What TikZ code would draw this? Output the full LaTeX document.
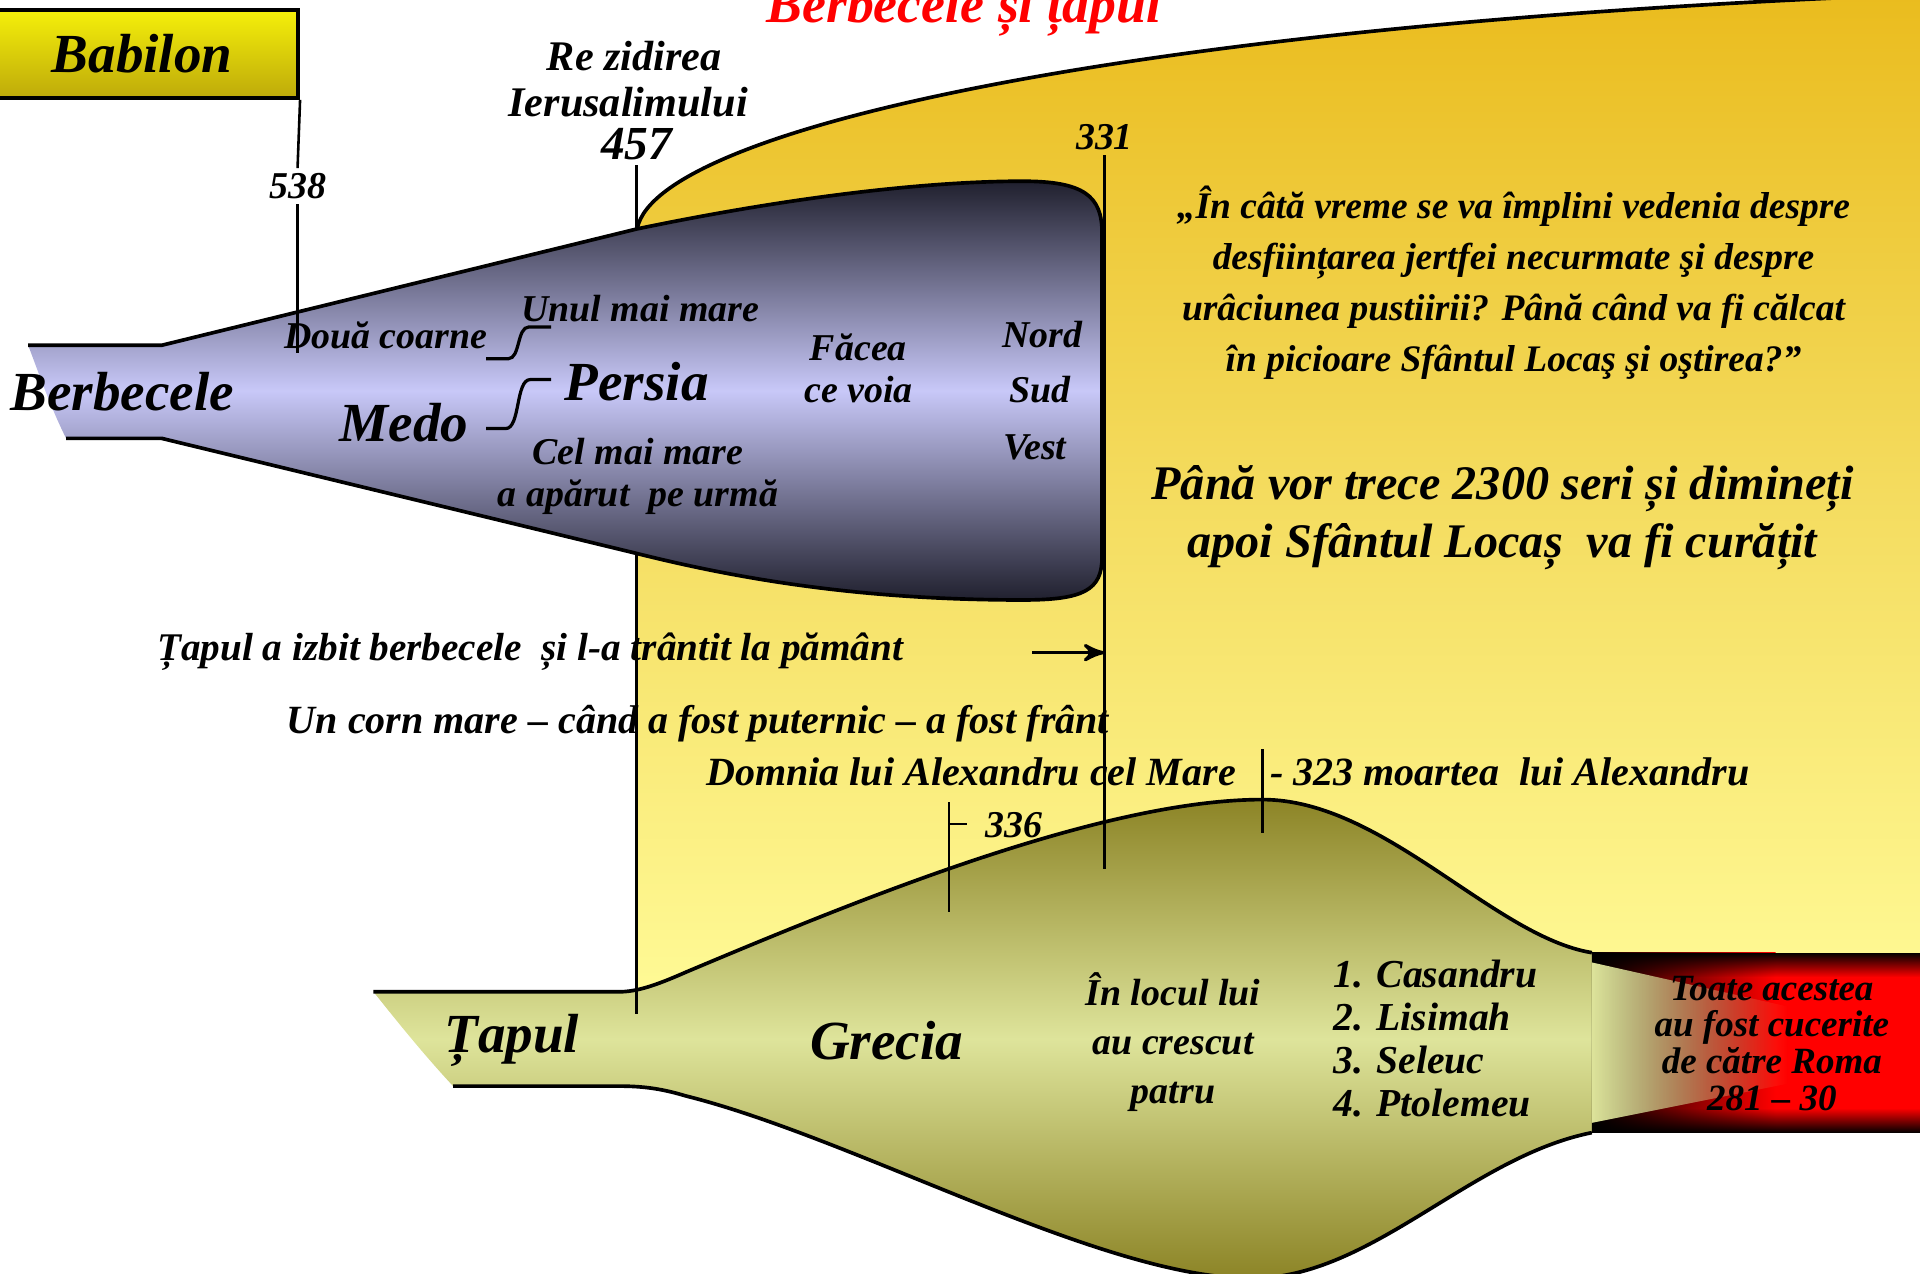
\documentclass[tikz,border=0pt]{standalone}
\usepackage{fontspec}
\setmainfont{Liberation Serif}
\usetikzlibrary{arrows,fadings}
\definecolor{aurinchis}{RGB}{234,188,30}
\definecolor{aurmediu}{RGB}{244,220,95}
\definecolor{galbendeschis}{RGB}{255,250,150}
\definecolor{lavanda}{RGB}{200,200,248}
\definecolor{bleumarin}{RGB}{32,32,46}
\definecolor{olivinchis}{RGB}{140,132,38}
\definecolor{olivdeschis}{RGB}{222,228,155}
\definecolor{babsus}{RGB}{245,240,10}
\definecolor{babjos}{RGB}{190,170,10}
\tikzset{
	txt/.style = {font=\bfseries\itshape\fontsize{8.8}{9.6}\selectfont,
		inner sep=1pt, align=center},% text obisnuit
	txtlung/.style = {txt, font=\bfseries\itshape\fontsize{9.3}{11}\selectfont},% randuri lungi
	txtmare/.style = {txt, font=\bfseries\itshape\fontsize{12.8}{15}\selectfont},% nume mari
	txtcitat/.style = {txt, font=\bfseries\itshape\fontsize{8.7}{11.9}\selectfont},% citatul din dreapta
	txtmediu/.style = {txt, font=\bfseries\itshape\fontsize{11.2}{13.4}\selectfont},
	titlu/.style = {txt, red, font=\bfseries\itshape\fontsize{12.5}{15}\selectfont},
	contur/.style = {line width=0.85pt, black, line join=round},% margine groasa
	reper/.style = {line width=0.6pt, black},% linie de timp
	acolada/.style = {line width=0.75pt, black}
}
\begin{document}
\begin{tikzpicture}[x=0.01cm, y=-0.01cm, >=stealth']
	\useasboundingbox (0,0) rectangle (1568,1040);
	\clip (0,0) rectangle (1568,1040);
	% fundalul galben
	\shade[top color=aurinchis, bottom color=galbendeschis, middle color=aurmediu]
		(520,190) .. controls (525,110) and (900,20) .. (1580,-5)
		-- (1580,815) -- (520,815) -- cycle;
	\draw[contur] (520,190) .. controls (525,110) and (900,20) .. (1580,-5);
	% berbecele
	\shade[top color=bleumarin, bottom color=bleumarin, middle color=lavanda]
		(23,282) -- (132,282) -- (520,187) .. controls (650,160) and (760,148) .. (835,148)
		.. controls (885,148) and (900,160) .. (900,190) -- (900,455)
		.. controls (900,482) and (885,490) .. (835,490)
		.. controls (700,490) and (600,472) .. (520,452) -- (132,358) -- (54,358)
		.. controls (40,330) and (30,300) .. (23,282) -- cycle;
	\draw[contur] (23,282) -- (132,282) -- (520,187) .. controls (650,160) and (760,148) .. (835,148)
		.. controls (885,148) and (900,160) .. (900,190) -- (900,455)
		.. controls (900,482) and (885,490) .. (835,490)
		.. controls (700,490) and (600,472) .. (520,452) -- (132,358) -- (54,358);
	% tapul
	\shade[top color=olivinchis, bottom color=olivinchis, middle color=olivdeschis]
		(305,810) -- (505,810) .. controls (520,810) and (535,805) .. (560,794)
		.. controls (700,735) and (900,653) .. (1031,653)
		.. controls (1130,653) and (1220,765) .. (1300,778) -- (1300,925)
		.. controls (1200,945) and (1120,1044) .. (1022,1044)
		.. controls (900,1044) and (700,930) .. (560,895)
		.. controls (540,889) and (525,887) .. (505,887) -- (370,887)
		.. controls (345,860) and (325,835) .. (305,810) -- cycle;
	\draw[contur] (305,810) -- (505,810) .. controls (520,810) and (535,805) .. (560,794)
		.. controls (700,735) and (900,653) .. (1031,653)
		.. controls (1130,653) and (1220,765) .. (1300,778);
	\draw[contur] (1300,925) .. controls (1200,945) and (1120,1044) .. (1022,1044)
		.. controls (900,1044) and (700,930) .. (560,895)
		.. controls (540,889) and (525,887) .. (505,887) -- (370,887);
	% Roma
	\shade[left color=black, right color=red] (1300,778) rectangle (1450,925);
	\fill[red] (1450,778) rectangle (1570,925);
	\fill[black, path fading=south] (1300,778) rectangle (1570,798);
	\fill[black, path fading=north] (1300,905) rectangle (1570,925);
	\fill[olivdeschis, path fading=east] (1300,786) -- (1460,822) -- (1460,885) -- (1300,917) -- cycle;

	% Babilon si reperele de timp
	\node[txtmare, draw, line width=0.85pt, top color=babsus, bottom color=babjos,
		minimum width=2.55cm, minimum height=0.72cm] (babilon) at (116,44) {Babilon};
	\node[txt, fill=white] (an538) at (243,152) {538};
	\coordinate (c538) at (243,288);
	\draw[reper] (babilon.south east) -- (an538.north);
	\draw[reper] (an538.south) -- (c538);

	\node[txt, font=\bfseries\itshape\fontsize{9.8}{11}\selectfont] (rezidirea) at (518,46) {Re zidirea};
	\node[txt, font=\bfseries\itshape\fontsize{9.8}{11}\selectfont] (ierusalim) at (513,83) {Ierusalimului};
	\node[txt, font=\bfseries\itshape\fontsize{11}{13}\selectfont] (an457) at (520,118) {457};
	\coordinate (c457) at (520,187);
	\coordinate (c457b) at (520,452);
	\coordinate (c457j) at (520,828);
	\draw[reper] (an457.south) -- (c457);
	\draw[reper] (c457b) -- (c457j);

	\node[txt] (an331) at (902,112) {331};
	\coordinate (c331) at (902,710);
	\draw[reper] (an331.south) -- (c331);

	\coordinate (c336s) at (775,655);
	\coordinate (c336j) at (775,745);
	\coordinate (c336t) at (790,673);
	\draw[reper] (c336s) -- (c336j);
	\draw[reper] (c336t -| c336s) -- (c336t);
	\node[txt, anchor=west] (an336) at (801,674) {336};

	\coordinate (c323s) at (1031,612);
	\coordinate (c323j) at (1031,680);
	\draw[reper] (c323s) -- (c323j);
	\node[txtlung, anchor=west] (an323) at (1033,630) {- 323 moartea \ lui Alexandru};

	% titlul
	\node[titlu, anchor=base] (titlul) at (787,18) {Berbecele și țapul};

	% textele berbecelui
	\node[txtmare] (berbecele) at (100,320) {Berbecele};
	\node[txt] (doua) at (315,274) {Două coarne};
	\node[txt] (unul) at (523,252) {Unul mai mare};
	\node[txtmare] (medo) at (330,345) {Medo};
	\node[txtmare] (persia) at (520,312) {Persia};
	\node[txt] (celmare) at (521,389) {Cel mai mare\\a apărut \ pe urmă};
	\node[txt, font=\bfseries\itshape\fontsize{8.8}{9.7}\selectfont] (facea) at (701,301) {Făcea\\ce voia};
	\node[txt] (nord) at (851,273) {Nord};
	\node[txt] (sud) at (849,318) {Sud};
	\node[txt] (vest) at (845,365) {Vest};
	\coordinate (a1) at (397,293);
	\coordinate (a2) at (450,267);
	\coordinate (b1) at (397,350);
	\coordinate (b2) at (450,310);
	\draw[acolada] (a1) -- ++(18,0) .. controls +(10,0) and +(-10,0) .. ++(17,-26) -- (a2);
	\draw[acolada] (b1) -- ++(16,0) .. controls +(12,0) and +(-12,0) .. ++(20,-40) -- (b2);

	% citatul
	\node[txtcitat] (citat) at (1236,231) {„În câtă vreme se va împlini vedenia despre\\
		desființarea jertfei necurmate şi despre\\
		urâciunea pustiirii? Până când va fi călcat\\
		în picioare Sfântul Locaş şi oştirea?”};
	\node[txtmediu] (seri) at (1227,423) {Până vor trece 2300 seri și dimineți\\
		apoi Sfântul Locaș \ va fi curățit};

	% textele din mijloc
	\node[txt, font=\bfseries\itshape\fontsize{9.1}{11}\selectfont] (izbit) at (433,532) {Țapul a izbit berbecele \ și l-a trântit la pământ};
	\coordinate (sag) at (843,533);
	\draw[->, line width=0.75pt] (sag) -- (sag -| c331);
	\node[txtlung] (corn) at (570,591) {Un corn mare – când a fost puternic – a fost frânt};
	\node[txtlung] (domnia) at (793,630) {Domnia lui Alexandru cel Mare};

	% textele tapului
	\node[txtmare] (tapul) at (418,850) {Țapul};
	\node[txtmare] (grecia) at (724,850) {Grecia};
	\node[txt, font=\bfseries\itshape\fontsize{8.8}{11.3}\selectfont] (locul) at (958,851) {În locul lui\\au crescut\\patru};
	\node[txt, align=left, anchor=west, font=\bfseries\itshape\fontsize{9.2}{10}\selectfont] (regi) at (1085,848)
		{1. Casandru\\2. Lisimah\\3. Seleuc\\4. Ptolemeu};
	\node[txt, font=\bfseries\itshape\fontsize{8.6}{8.5}\selectfont] (roma) at (1447,852)
		{Toate acestea\\au fost cucerite\\de către Roma\\281 – 30};
\end{tikzpicture}
\end{document}
